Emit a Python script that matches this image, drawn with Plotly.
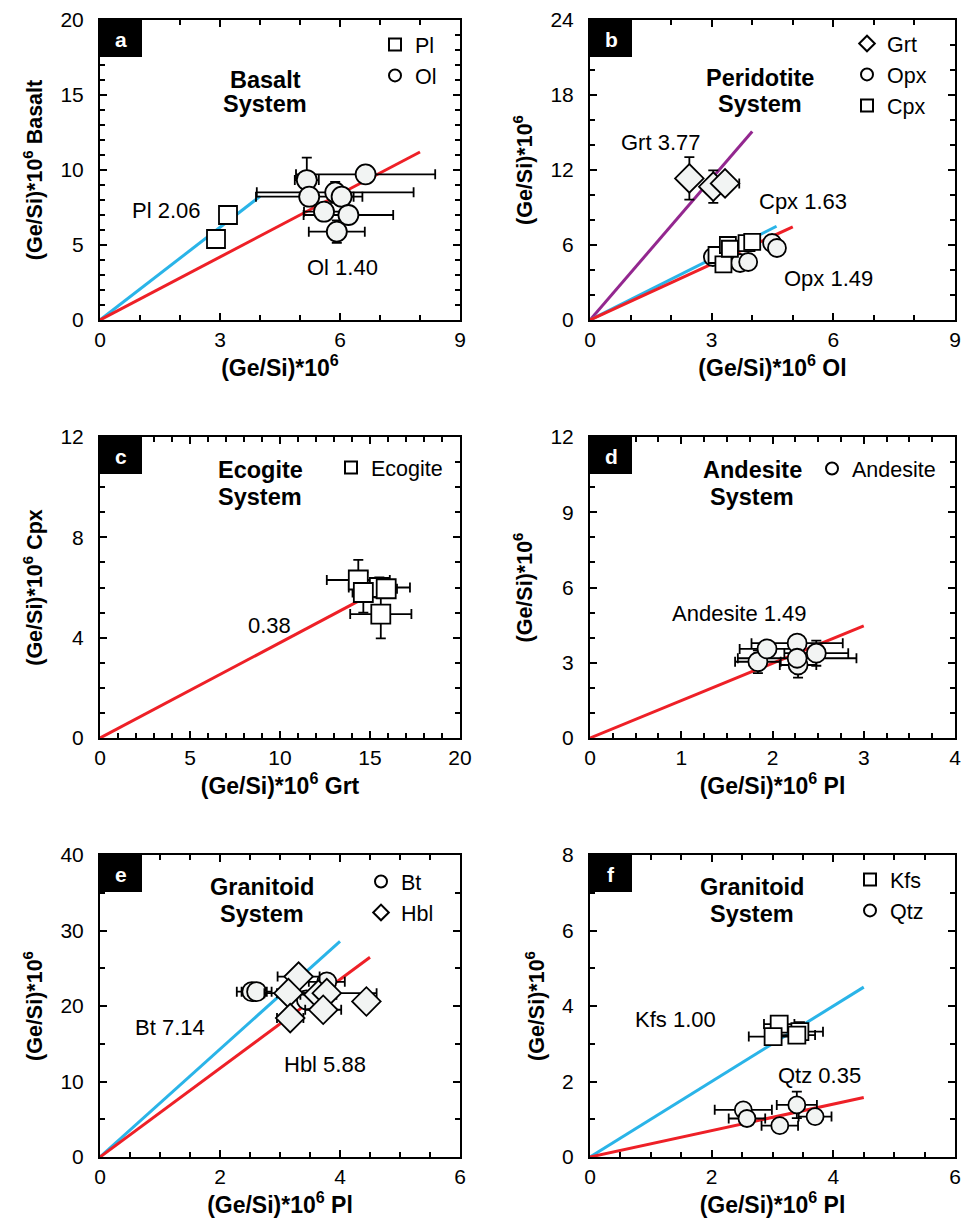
import plotly.graph_objects as go

W, H = 969, 1232
OFF = 8  # page body margin of the browser
BLUE = "#2ab4e8"
RED = "#ee2027"
PURPLE = "#93278f"
FILL = "#f2f4f3"

# ---------------- data ----------------
# Panel a (Basalt)
a_pl_x = [3.2, 2.9]
a_pl_y = [7.0, 5.4]
a_ol_x = [5.17, 6.64, 5.23, 5.88, 6.04, 5.60, 6.21, 5.92]
a_ol_y = [9.33, 9.71, 8.22, 8.51, 8.22, 7.22, 7.00, 5.89]
a_ol_xerr = [0.3, 1.74, 1.33, 1.96, 0.3, 0.5, 1.12, 0.7]
a_ol_yerr = [1.5, 0.3, 0.5, 0.7, 0.5, 0.5, 0.5, 0.75]
a_slopes = {"Pl": 2.06, "Ol": 1.40}
a_xend = {"Pl": 4.0, "Ol": 8.0}

# Panel b (Peridotite)
b_grt_x = [2.45, 3.04, 3.33]
b_grt_y = [11.33, 10.67, 10.93]
b_grt_xerr = [0.1, 0.15, 0.35]
b_grt_yerr = [1.7, 1.3, 0.3]
b_opx_x = [3.03, 3.45, 3.70, 3.90, 4.49, 4.61]
b_opx_y = [5.04, 4.96, 4.56, 4.64, 6.16, 5.76]
b_cpx_x = [3.12, 3.29, 3.40, 3.45, 3.86, 4.00]
b_cpx_y = [5.20, 4.45, 6.00, 5.70, 6.15, 6.25]
b_slopes = {"Grt": 3.77, "Cpx": 1.63, "Opx": 1.49}
b_xend = {"Grt": 4.0, "Cpx": 4.6, "Opx": 5.0}

# Panel c (Ecogite)
c_x = [14.35, 15.52, 15.90, 14.63, 15.60]
c_y = [6.30, 6.00, 5.95, 5.80, 4.94]
c_xerr = [1.75, 1.7, 0.6, 0.6, 1.7]
c_yerr = [0.8, 0.4, 0.3, 0.8, 0.97]
c_slope = 0.38
c_xend = 14.3

# Panel d (Andesite)
d_x = [1.84, 1.94, 2.27, 2.28, 2.27, 2.48]
d_y = [3.04, 3.55, 3.78, 2.91, 3.18, 3.38]
d_xerr = [0.25, 0.3, 0.5, 0.2, 0.65, 0.35]
d_yerr = [0.45, 0.3, 0.3, 0.5, 0.4, 0.5]
d_slope = 1.49
d_xend = 3.0

# Panel e (Granitoid: Bt, Hbl)
e_bt_x = [2.53, 2.61, 3.78, 3.44]
e_bt_y = [21.9, 21.9, 23.2, 20.8]
e_bt_xerr = [0.25, 0.25, 0.3, 0.3]
e_bt_yerr = [0.8, 0.8, 1.0, 1.0]
e_hbl_x = [3.31, 3.14, 3.64, 3.78, 3.72, 3.17, 4.44]
e_hbl_y = [23.9, 21.7, 21.5, 21.7, 19.5, 18.4, 20.6]
e_hbl_xerr = [0.35, 0.4, 0.3, 0.83, 0.3, 0.22, 0.1]
e_hbl_yerr = [1.0, 0.8, 0.8, 0.8, 0.8, 0.8, 0.4]
e_slopes = {"Bt": 7.14, "Hbl": 5.88}
e_xend = {"Bt": 4.0, "Hbl": 4.5}

# Panel f (Granitoid: Kfs, Qtz)
f_kfs_x = [3.11, 3.01, 3.45, 3.40]
f_kfs_y = [3.52, 3.19, 3.32, 3.23]
f_kfs_xerr = [0.25, 0.4, 0.38, 0.3]
f_kfs_yerr = [0.2, 0.2, 0.25, 0.2]
f_qtz_x = [2.52, 2.58, 3.40, 3.70, 3.12]
f_qtz_y = [1.25, 1.02, 1.38, 1.07, 0.83]
f_qtz_xerr = [0.47, 0.3, 0.33, 0.27, 0.3]
f_qtz_yerr = [0.1, 0.1, 0.35, 0.15, 0.1]
f_slopes = {"Kfs": 1.00, "Qtz": 0.35}
f_xend = {"Kfs": 4.5, "Qtz": 4.5}


def PX(x):
    return (x - OFF) / W


def PY(y):
    return 1 - (y - OFF) / H


# ---------------- layout geometry (pixels of the page) ----------------
panels = {
    1: dict(x0=100, x1=460, y0=20, y1=320, xr=[0, 9], yr=[0, 20], xd=3, yd=5, xm=1, ym=1,
            xt="(Ge/Si)*10<sup>6</sup>", yt="(Ge/Si)*10<sup>6</sup> Basalt", letter="a",
            title=("Basalt", "System"), tpos=(265, 80, 104)),
    2: dict(x0=590, x1=955, y0=20, y1=320, xr=[0, 9], yr=[0, 24], xd=3, yd=6, xm=1, ym=2,
            xt="(Ge/Si)*10<sup>6</sup> Ol", yt="(Ge/Si)*10<sup>6</sup>", letter="b",
            title=("Peridotite", "System"), tpos=(760, 78, 104)),
    3: dict(x0=100, x1=460, y0=437, y1=738, xr=[0, 20], yr=[0, 12], xd=5, yd=4, xm=1, ym=1,
            xt="(Ge/Si)*10<sup>6</sup> Grt", yt="(Ge/Si)*10<sup>6</sup> Cpx", letter="c",
            title=("Ecogite", "System"), tpos=(260, 470, 497)),
    4: dict(x0=590, x1=955, y0=437, y1=738, xr=[0, 4], yr=[0, 12], xd=1, yd=3, xm=0.25, ym=1,
            xt="(Ge/Si)*10<sup>6</sup> Pl", yt="(Ge/Si)*10<sup>6</sup>", letter="d",
            title=("Andesite", "System"), tpos=(752, 470, 497)),
    5: dict(x0=100, x1=460, y0=855, y1=1157, xr=[0, 6], yr=[0, 40], xd=2, yd=10, xm=0.5, ym=5,
            xt="(Ge/Si)*10<sup>6</sup> Pl", yt="(Ge/Si)*10<sup>6</sup>", letter="e",
            title=("Granitoid", "System"), tpos=(262, 887, 914)),
    6: dict(x0=590, x1=955, y0=855, y1=1157, xr=[0, 6], yr=[0, 8], xd=2, yd=2, xm=0.5, ym=1,
            xt="(Ge/Si)*10<sup>6</sup> Pl", yt="(Ge/Si)*10<sup>6</sup>", letter="f",
            title=("Granitoid", "System"), tpos=(752, 887, 914)),
}

FONT = "Liberation Sans, Arial, sans-serif"
fig = go.Figure()
layout = dict(width=W, height=H, margin=dict(l=0, r=0, t=0, b=0, autoexpand=False),
              paper_bgcolor="white", plot_bgcolor="white",
              font=dict(family=FONT, size=21, color="black"),
              shapes=[], annotations=[])

for i, p in panels.items():
    sx = "" if i == 1 else str(i)
    ax = dict(range=p["xr"], domain=[PX(p["x0"]), PX(p["x1"])], dtick=p["xd"], tick0=0,
              showline=True, linecolor="black", linewidth=2, mirror="ticks",
              ticks="inside", ticklen=7, tickwidth=2, tickcolor="black",
              minor=dict(ticks="inside", ticklen=5, tickwidth=1.5, dtick=p["xm"], tickcolor="black"),
              showgrid=False, zeroline=False, tickfont=dict(size=21), automargin=False,
              title=dict(text="<b>" + p["xt"] + "</b>", font=dict(size=23), standoff=4),
              anchor="y" + sx, fixedrange=True)
    ay = dict(range=p["yr"], domain=[PY(p["y1"]), PY(p["y0"])], dtick=p["yd"], tick0=0,
              showline=True, linecolor="black", linewidth=2, mirror="ticks",
              ticks="inside", ticklen=7, tickwidth=2, tickcolor="black",
              minor=dict(ticks="inside", ticklen=5, tickwidth=1.5, dtick=p["ym"], tickcolor="black"),
              showgrid=False, zeroline=False, tickfont=dict(size=21), automargin=False,
              ticklabelstandoff=10,
              title=dict(text="<b>" + p["yt"] + "</b>", font=dict(size=21.5), standoff=12),
              anchor="x" + sx, fixedrange=True)
    layout["xaxis" + sx] = ax
    layout["yaxis" + sx] = ay
    # panel letter box
    layout["shapes"].append(dict(type="rect", xref="paper", yref="paper",
                                 x0=PX(p["x0"]), x1=PX(p["x0"] + 42),
                                 y0=PY(p["y0"] + 37), y1=PY(p["y0"]),
                                 fillcolor="black", line=dict(width=0), layer="above"))
    layout["annotations"].append(dict(text="<b>" + p["letter"] + "</b>", xref="paper", yref="paper",
                                      x=PX(p["x0"] + 21), y=PY(p["y0"] + 19),
                                      showarrow=False, font=dict(size=21, color="white"),
                                      xanchor="center", yanchor="middle"))
    # system title (two lines)
    tx, ty1, ty2 = p["tpos"]
    for txt, ty in zip(p["title"], (ty1, ty2)):
        layout["annotations"].append(dict(text="<b>" + txt + "</b>", xref="paper", yref="paper",
                                          x=PX(tx), y=PY(ty), showarrow=False, font=dict(size=23.5),
                                          xanchor="center", yanchor="middle"))


def ax_ids(i):
    sx = "" if i == 1 else str(i)
    return "x" + sx, "y" + sx


def add_line(i, slope, xend, color):
    xa, ya = ax_ids(i)
    fig.add_trace(go.Scatter(x=[0, xend], y=[0, slope * xend], mode="lines",
                             line=dict(color=color, width=3), xaxis=xa, yaxis=ya,
                             showlegend=False, hoverinfo="skip"))


def add_pts(i, x, y, symbol, size, fill, xerr=None, yerr=None):
    xa, ya = ax_ids(i)
    kw = {}
    if xerr is not None:
        kw["error_x"] = dict(type="data", array=xerr, color="black", thickness=1.8, width=5)
    if yerr is not None:
        kw["error_y"] = dict(type="data", array=yerr, color="black", thickness=1.8, width=5)
    fig.add_trace(go.Scatter(x=x, y=y, mode="markers", xaxis=xa, yaxis=ya, showlegend=False,
                             marker=dict(symbol=symbol, size=size, color=fill,
                                         line=dict(color="black", width=1.8)), **kw))


def add_leg(legend, name, symbol):
    fig.add_trace(go.Scatter(x=[None], y=[None], mode="markers", name=name, legend=legend,
                             marker=dict(symbol=symbol, size=13, color="white",
                                         line=dict(color="black", width=1.6))))


def add_text(i, x, y, text):
    xa, ya = ax_ids(i)
    layout["annotations"].append(dict(text=text, x=x, y=y, xref=xa, yref=ya, showarrow=False,
                                      font=dict(size=22), xanchor="center", yanchor="middle"))


# Panel a
add_line(1, a_slopes["Pl"], a_xend["Pl"], BLUE)
add_line(1, a_slopes["Ol"], a_xend["Ol"], RED)
add_pts(1, a_pl_x, a_pl_y, "square", 18, "white")
add_pts(1, a_ol_x, a_ol_y, "circle", 20, FILL, a_ol_xerr, a_ol_yerr)
add_leg("legend", "Pl", "square")
add_leg("legend", "Ol", "circle")
add_text(1, 1.65, 7.27, "Pl 2.06")
add_text(1, 6.05, 3.53, "Ol 1.40")

# Panel b
add_line(2, b_slopes["Grt"], b_xend["Grt"], PURPLE)
add_line(2, b_slopes["Cpx"], b_xend["Cpx"], BLUE)
add_line(2, b_slopes["Opx"], b_xend["Opx"], RED)
add_pts(2, b_opx_x, b_opx_y, "circle", 18, FILL, [0.1] * len(b_opx_x), [0.3] * len(b_opx_x))
add_pts(2, b_cpx_x, b_cpx_y, "square", 16, "white", [0.1] * len(b_cpx_x), [0.2] * len(b_cpx_x))
add_pts(2, b_grt_x, b_grt_y, "diamond", 22, FILL, b_grt_xerr, b_grt_yerr)
add_leg("legend2", "Grt", "diamond")
add_leg("legend2", "Opx", "circle")
add_leg("legend2", "Cpx", "square")
add_text(2, 1.75, 14.2, "Grt 3.77")
add_text(2, 5.25, 9.44, "Cpx 1.63")
add_text(2, 5.87, 3.28, "Opx 1.49")

# Panel c
add_line(3, c_slope, c_xend, RED)
add_pts(3, c_x, c_y, "square", 19, "white", c_xerr, c_yerr)
add_leg("legend3", "Ecogite", "square")
add_text(3, 9.4, 4.5, "0.38")

# Panel d
add_line(4, d_slope, d_xend, RED)
add_pts(4, d_x, d_y, "circle", 19, FILL, d_xerr, d_yerr)
add_leg("legend4", "Andesite", "circle")
add_text(4, 1.64, 4.98, "Andesite 1.49")

# Panel e
add_line(5, e_slopes["Bt"], e_xend["Bt"], BLUE)
add_line(5, e_slopes["Hbl"], e_xend["Hbl"], RED)
add_pts(5, e_bt_x, e_bt_y, "circle", 19, FILL, e_bt_xerr, e_bt_yerr)
add_pts(5, e_hbl_x, e_hbl_y, "diamond", 22, FILL, e_hbl_xerr, e_hbl_yerr)
add_leg("legend5", "Bt", "circle")
add_leg("legend5", "Hbl", "diamond")
add_text(5, 1.17, 17.1, "Bt 7.14")
add_text(5, 3.75, 12.3, "Hbl 5.88")

# Panel f
add_line(6, f_slopes["Kfs"], f_xend["Kfs"], BLUE)
add_line(6, f_slopes["Qtz"], f_xend["Qtz"], RED)
add_pts(6, f_kfs_x, f_kfs_y, "square", 17, "white", f_kfs_xerr, f_kfs_yerr)
add_pts(6, f_qtz_x, f_qtz_y, "circle", 17, FILL, f_qtz_xerr, f_qtz_yerr)
add_leg("legend6", "Kfs", "square")
add_leg("legend6", "Qtz", "circle")
add_text(6, 1.4, 3.63, "Kfs 1.00")
add_text(6, 3.78, 2.17, "Qtz 0.35")

# legend top-left corners, page pixels
leg_pos = {"legend": (375, 24), "legend2": (847, 23), "legend3": (331, 447),
           "legend4": (812, 448), "legend5": (361, 861), "legend6": (850, 859)}
for k, (lx, ly) in leg_pos.items():
    layout[k] = dict(x=PX(lx), y=PY(ly), xanchor="left", yanchor="top",
                     bgcolor="rgba(0,0,0,0)", borderwidth=0, itemsizing="constant",
                     font=dict(size=21.5), tracegroupgap=0, itemwidth=30)

fig.update_layout(**layout)
fig.write_html("out.html")
